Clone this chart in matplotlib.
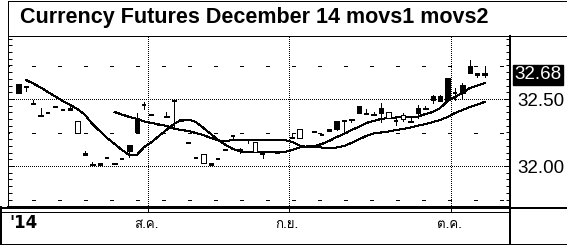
import numpy as np
import matplotlib
matplotlib.use('Agg')
import matplotlib.pyplot as plt
from matplotlib import font_manager
from matplotlib.patches import Rectangle
from matplotlib.lines import Line2D

plt.rcParams['lines.scale_dashes'] = False

# ---------------- data ----------------
nan = np.nan
title = "Currency Futures December 14 movs1 movs2"
year_label = "'14"
month_labels = ["ส.ค.", "ก.ย.", "ต.ค."]
month_starts = [18, 37, 59]          # trading-day index of first session of month
last_price = 32.68
ytick_vals = [32.00, 32.50]

opens = [32.612, 32.597, 32.470, 32.381, 32.396, 32.440, 32.418, 32.433, 32.246, 32.097,
         32.015, 32.022, 32.060, 32.022, 32.052, 32.157, 32.358, 32.455, 32.381, 32.306,
         32.373, 32.493, 32.351, 32.172, 32.060, 32.022, 32.022, 32.052, 32.119, 32.224,
         32.119, 32.194, 32.104, 32.090, 32.104, 32.100, nan, 32.216, 32.209, nan,
         32.254, 32.228, 32.276, 32.336, 32.343, 32.351, 32.448, 32.396, 32.388, 32.433,
         32.358, 32.336, 32.351, 32.336, 32.433, 32.433, 32.522, 32.522, 32.657, 32.545,
         32.604, 32.746, 32.694, 32.694]
highs = [32.612, 32.597, 32.493, 32.433, 32.396, 32.440, 32.418, 32.440, 32.336, 32.112,
         32.030, 32.022, 32.060, 32.022, 32.052, 32.157, 32.396, 32.478, 32.381, 32.306,
         32.403, 32.493, 32.351, 32.172, 32.060, 32.090, 32.022, 32.052, 32.119, 32.224,
         32.134, 32.194, 32.179, 32.090, 32.104, 32.100, nan, 32.246, 32.276, nan,
         32.254, 32.228, 32.276, 32.336, 32.343, 32.351, 32.448, 32.425, 32.403, 32.470,
         32.403, 32.358, 32.396, 32.358, 32.455, 32.448, 32.530, 32.530, 32.657, 32.582,
         32.619, 32.791, 32.694, 32.746]
lows = [32.545, 32.560, 32.463, 32.373, 32.396, 32.440, 32.418, 32.418, 32.246, 32.082,
        32.007, 32.007, 32.060, 32.015, 32.052, 32.067, 32.254, 32.425, 32.381, 32.306,
        32.366, 32.276, 32.336, 32.172, 32.060, 32.022, 32.007, 32.052, 32.119, 32.194,
        32.097, 32.172, 32.104, 32.060, 32.104, 32.100, nan, 32.209, 32.209, nan,
        32.254, 32.228, 32.261, 32.269, 32.254, 32.328, 32.396, 32.388, 32.381, 32.328,
        32.358, 32.306, 32.336, 32.328, 32.358, 32.425, 32.470, 32.485, 32.493, 32.493,
        32.507, 32.694, 32.664, 32.664]
closes = [32.545, 32.590, 32.463, 32.373, 32.396, 32.440, 32.418, 32.418, 32.336, 32.082,
          32.007, 32.007, 32.060, 32.015, 32.052, 32.112, 32.254, 32.455, 32.381, 32.306,
          32.366, 32.485, 32.336, 32.172, 32.060, 32.090, 32.007, 32.052, 32.119, 32.224,
          32.119, 32.194, 32.179, 32.090, 32.104, 32.100, nan, 32.209, 32.276, nan,
          32.254, 32.228, 32.261, 32.276, 32.336, 32.343, 32.396, 32.388, 32.381, 32.396,
          32.403, 32.336, 32.381, 32.328, 32.396, 32.425, 32.493, 32.485, 32.493, 32.545,
          32.545, 32.694, 32.679, 32.679]

movs1 = [nan, 32.642, 32.616, 32.586, 32.552, 32.519, 32.485, 32.455, 32.425, 32.381,
         32.313, 32.261, 32.209, 32.164, 32.119, 32.082, 32.082, 32.142, 32.179, 32.224,
         32.269, 32.313, 32.343, 32.347, 32.328, 32.284, 32.239, 32.194, 32.157, 32.127,
         32.108, 32.104, 32.104, 32.104, 32.104, 32.104, 32.104, 32.119, 32.138, 32.146,
         32.149, 32.164, 32.187, 32.216, 32.239, 32.269, 32.291, 32.321, 32.336, 32.351,
         32.358, 32.362, 32.362, 32.362, 32.369, 32.388, 32.403, 32.433, 32.485, 32.515,
         32.545, 32.582, 32.601, 32.619]
movs2 = [nan, nan, nan, nan, nan, nan, nan, nan, nan, nan,
         nan, nan, nan, 32.403, 32.384, 32.366, 32.351, 32.332, 32.321, 32.310,
         32.299, 32.280, 32.269, 32.261, 32.246, 32.231, 32.209, 32.190, 32.187, 32.194,
         32.194, 32.194, 32.194, 32.194, 32.194, 32.194, 32.194, 32.179, 32.153, 32.142,
         32.142, 32.138, 32.138, 32.138, 32.149, 32.172, 32.198, 32.224, 32.243, 32.250,
         32.257, 32.269, 32.276, 32.287, 32.302, 32.313, 32.328, 32.343, 32.366, 32.396,
         32.418, 32.440, 32.459, 32.478]

# ---------------- layout helpers ----------------
W, H, DPI = 567, 245, 100
PX = 72.0 / DPI


def find_family(chars):
    try:
        from fontTools.ttLib import TTFont
    except Exception:
        return None
    seen = set()
    for fe in font_manager.fontManager.ttflist:
        if fe.fname in seen:
            continue
        seen.add(fe.fname)
        try:
            f = TTFont(fe.fname, fontNumber=0, lazy=True)
            cmap = f.getBestCmap()
            if cmap and all(ord(c) in cmap for c in chars):
                return fe.name
        except Exception:
            continue
    return None


thai_family = find_family("สคกยต")
names = {f.name for f in font_manager.fontManager.ttflist}
title_family = "Liberation Sans Narrow" if "Liberation Sans Narrow" in names else "Liberation Sans"

fig = plt.figure(figsize=(W / DPI, H / DPI), dpi=DPI)
fig.patch.set_facecolor('white')

AX_L, AX_R, AX_T, AX_B = 8, 510, 36, 207
ax = fig.add_axes([AX_L / W, 1 - AX_B / H, (AX_R - AX_L) / W, (AX_B - AX_T) / H])

# pixel mapping of index -> x, value -> y
X0, DX = 18.4, 7.4
Y50, PPU = 99.0, 134.0
ax.set_xlim((AX_L - X0) / DX, (AX_R - X0) / DX)
ax.set_ylim(32.5 - (AX_B - Y50) / PPU, 32.5 - (AX_T - Y50) / PPU)

# grid
dotted = (0, (PX, 2 * PX))
for v in ytick_vals:
    ax.axhline(v, color='k', lw=PX, ls=dotted, antialiased=False, zorder=1)
for v in [31.75, 32.25, 32.75]:
    ax.axhline(v, color='k', lw=1.2 * PX, ls=(2 * PX, (4 * PX, 23 * PX)), antialiased=False, zorder=1)
for m in month_starts:
    ax.axvline(m - 0.5, color='k', lw=PX, ls=dotted, antialiased=False, zorder=1)

# candles
idx = np.arange(len(opens))
cw = 0.62
for i, o, h, l, c in zip(idx, opens, highs, lows, closes):
    if np.isnan(o):
        continue
    if h > max(o, c) + 1e-9 or l < min(o, c) - 1e-9:
        ax.vlines(i, l, h, colors='k', lw=PX, antialiased=False, zorder=3)
    if abs(o - c) < 0.004:
        ax.hlines(o, i - cw / 2, i + cw / 2, colors='k', lw=1.5 * PX, antialiased=False, zorder=4)
    else:
        ax.add_patch(Rectangle((i - cw / 2, min(o, c)), cw, abs(o - c),
                               facecolor='k' if o > c else 'white', edgecolor='k',
                               lw=PX, antialiased=False, zorder=4))

ax.plot(idx, movs1, color='k', lw=PX, antialiased=False, zorder=2)
ax.plot(idx, movs2, color='k', lw=PX, antialiased=False, zorder=2)

# axes styling
for s in ['left', 'top']:
    ax.spines[s].set_linewidth(PX)
ax.spines['bottom'].set_linewidth(2 * PX)
ax.spines['right'].set_linewidth(2 * PX)
ax.set_xticks([])
ax.set_yticks(ytick_vals)
ax.set_yticklabels([f"{v:.2f}" for v in ytick_vals])
ax.set_yticks(np.arange(31.70, 32.97, 0.05), minor=True)
ax.tick_params(axis='y', which='both', direction='in', left=True, right=True,
               labelleft=False, labelright=True, width=PX, colors='k')
ax.tick_params(axis='y', which='major', length=6 * PX, pad=7 * PX, labelsize=13.5)
ax.tick_params(axis='y', which='minor', length=4 * PX)
for t in ax.get_yticklabels():
    t.set_fontfamily('Liberation Sans')

ax.text(1.009, last_price, f"{last_price:.2f}", transform=ax.get_yaxis_transform(),
        color='white', fontsize=13.5, family='Liberation Sans', va='center', ha='left',
        bbox=dict(boxstyle='square,pad=0.08', facecolor='k', edgecolor='k'))


# frame structure in pixel coords
def pline(x0, y0, x1, y1, lw=1.0):
    fig.add_artist(Line2D([x0 / W, x1 / W], [1 - y0 / H, 1 - y1 / H], color='k',
                          lw=lw * PX, antialiased=False, transform=fig.transFigure))

pline(8, 1, 566, 1)
pline(8, 1, 8, 36)
pline(8, 36, 567, 36)
pline(0, 207.5, 567, 207.5, 2)
pline(0, 211.5, 509.5, 211.5)
pline(1, 207, 1, 244, 2)
pline(0, 243.5, 567, 243.5)
pline(509.5, 207, 509.5, 245, 1.5)
for m in month_starts:
    xm = X0 + DX * (m - 0.5)
    pline(xm, 207, xm, 212)

fig.text(20 / W, 1 - 18 / H, title, fontsize=15.5, fontweight='bold', family=title_family,
         ha='left', va='center')
fig.text(9 / W, 1 - 223 / H, year_label, fontsize=12, fontweight='bold', family='DejaVu Sans',
         ha='left', va='center')
for m, lab in zip(month_starts, month_labels):
    xm = X0 + DX * (m - 0.7)
    kw = dict(family=[thai_family, 'DejaVu Sans']) if thai_family else {}
    fig.text(xm / W, 1 - 225 / H, lab, fontsize=9.5, ha='center', va='center', **kw)

fig.savefig('out.png', dpi=DPI, facecolor='white')
